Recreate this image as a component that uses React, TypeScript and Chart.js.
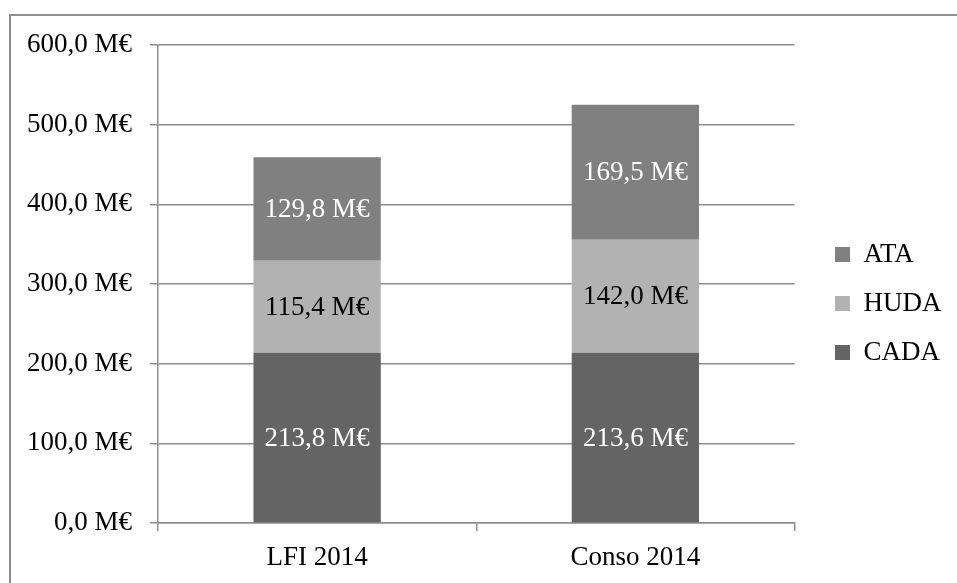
import React, { useEffect, useRef } from "react";
import { Chart, registerables } from "chart.js";

Chart.register(...registerables);

// Budget by programme, in millions of euros
const categories = ["LFI 2014", "Conso 2014"];
const seriesNames = ["CADA", "HUDA", "ATA"];
const cadaValues = [213.8, 213.6];
const hudaValues = [115.4, 142.0];
const ataValues = [129.8, 169.5];
const yTicks = [0, 100, 200, 300, 400, 500, 600];

const FONT = "'Liberation Serif', 'DejaVu Serif', serif";
const FONT_SIZE = 27;
const GRID = "#8d8d8d";

const fmt = (v: number) => v.toFixed(1).replace(".", ",") + " M€";

// Writes each segment's value at the middle of its bar
const segmentLabels = {
  id: "segmentLabels",
  afterDatasetsDraw(chart: any) {
    const ctx = chart.ctx;
    ctx.save();
    ctx.font = `${FONT_SIZE}px ${FONT}`;
    ctx.textAlign = "center";
    ctx.textBaseline = "middle";
    chart.data.datasets.forEach((ds: any, di: number) => {
      const meta = chart.getDatasetMeta(di);
      ctx.fillStyle = ds.labelColor;
      meta.data.forEach((bar: any, i: number) => {
        const { x, y, base } = bar.getProps(["x", "y", "base"], true);
        ctx.fillText(fmt(ds.data[i]), x, (y + base) / 2 + 1);
      });
    });
    ctx.restore();
  },
};

// Moves the legend column to its place right of the plot
const legendPlacement = {
  id: "legendPlacement",
  afterLayout(chart: any) {
    const lg = chart.legend;
    if (!lg) return;
    const dx = 813 - lg.left;
    const dy = 219 - lg.top;
    lg.left += dx;
    lg.right += dx;
    lg.top += dy;
    lg.bottom += dy;
  },
};

export default function App() {
  const ref = useRef<HTMLCanvasElement | null>(null);

  useEffect(() => {
    if (!ref.current) return;
    const chart = new Chart(ref.current, {
      type: "bar",
      data: {
        labels: categories,
        datasets: [
          { label: seriesNames[0], data: cadaValues, backgroundColor: "#646464", labelColor: "#ffffff" } as any,
          { label: seriesNames[1], data: hudaValues, backgroundColor: "#b2b2b2", labelColor: "#000000" } as any,
          { label: seriesNames[2], data: ataValues, backgroundColor: "#808080", labelColor: "#ffffff" } as any,
        ],
      },
      options: {
        animation: false,
        responsive: false,
        maintainAspectRatio: false,
        layout: { padding: { left: 0, top: 45, right: 24, bottom: 0 } },
        datasets: { bar: { barPercentage: 0.4, categoryPercentage: 1 } },
        scales: {
          x: {
            stacked: true,
            grid: { drawOnChartArea: false, drawTicks: true, tickLength: 8, color: GRID, lineWidth: 1.5 },
            border: { display: true, color: GRID, width: 1.5 },
            ticks: { color: "#000000", font: { family: FONT, size: FONT_SIZE }, padding: 11 },
            afterFit: (s: any) => { s.height = 60; },
          },
          y: {
            stacked: true,
            min: 0,
            max: 600,
            afterBuildTicks: (s: any) => { s.ticks = yTicks.map((v) => ({ value: v })); },
            grid: { color: GRID, lineWidth: 1.5, tickLength: 8 },
            border: { display: true, color: GRID, width: 1.5 },
            ticks: {
              color: "#000000",
              font: { family: FONT, size: FONT_SIZE },
              padding: 18,
              callback: (v: any) => fmt(Number(v)),
            },
            afterFit: (s: any) => { s.width = 158; },
          },
        },
        plugins: {
          legend: {
            position: "right",
            align: "start",
            reverse: true,
            labels: {
              boxWidth: 15,
              boxHeight: 15,
              padding: 22,
              color: "#000000",
              font: { family: FONT, size: FONT_SIZE },
            },
          },
          tooltip: { enabled: false },
        },
      },
      plugins: [segmentLabels, legendPlacement],
    });
    return () => chart.destroy();
  }, []);

  return (
    <div style={{ position: "fixed", left: 0, top: 0, width: 957, height: 583, background: "#ffffff", overflow: "hidden" }}>
      <div
        style={{
          position: "absolute",
          left: 9,
          top: 14,
          width: 1200,
          height: 1200,
          borderLeft: "2px solid #8e8e8e",
          borderTop: "2px solid #8e8e8e",
        }}
      />
      <canvas ref={ref} width={957} height={583} style={{ position: "absolute", left: 0, top: 0, width: 957, height: 583 }} />
    </div>
  );
}
